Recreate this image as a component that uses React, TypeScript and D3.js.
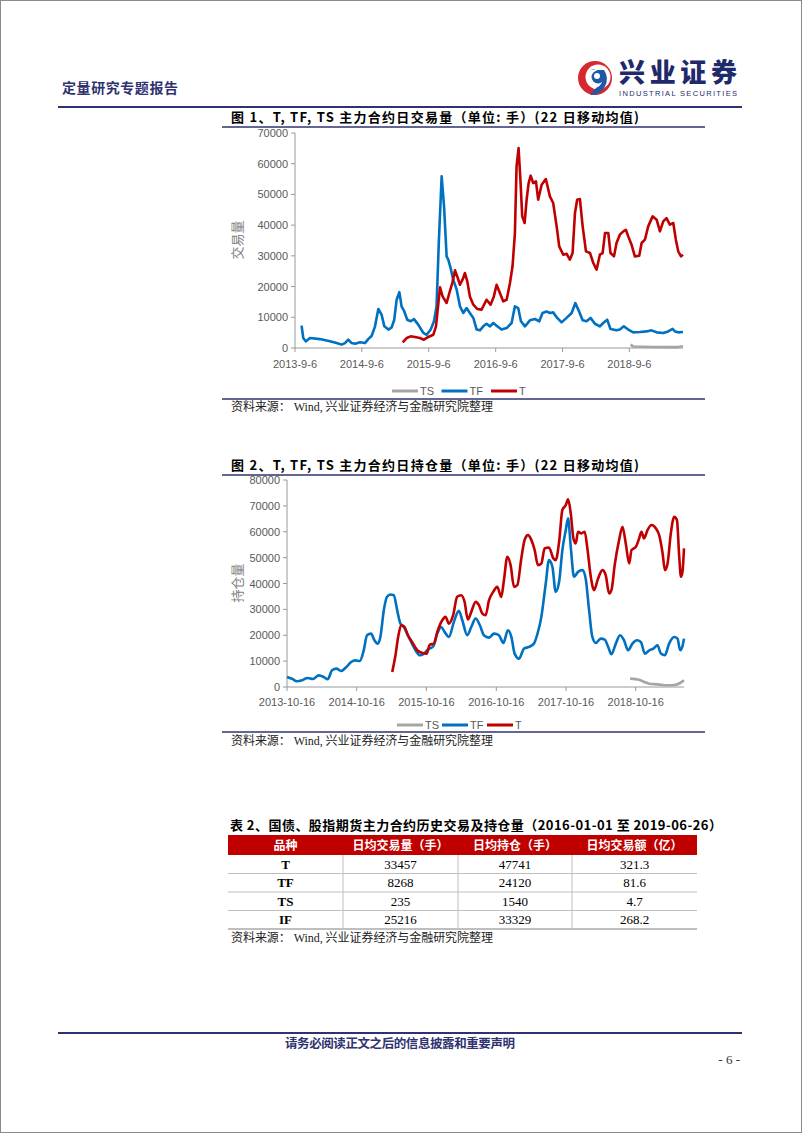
import React from "react";
import * as d3 from "d3";

type Pt = [string, number];

// ---------- Figure 1: daily volume (22-day MA) ----------
const volTF: Pt[] = [
  ["2013-10-12", 7270], ["2013-10-21", 3250], ["2013-11-05", 2170], ["2013-11-27", 3250],
  ["2014-01-20", 2900], ["2014-03-16", 2170], ["2014-04-21", 1600], ["2014-05-19", 1100],
  ["2014-06-06", 1600], ["2014-06-24", 2700], ["2014-07-12", 1600], ["2014-07-31", 1400],
  ["2014-08-27", 1850], ["2014-09-23", 1600], ["2014-10-11", 2900], ["2014-10-30", 4000],
  ["2014-11-17", 7050], ["2014-12-05", 12700], ["2014-12-23", 10850], ["2015-01-07", 7050],
  ["2015-01-29", 6000], ["2015-02-16", 6700], ["2015-03-02", 9200], ["2015-03-15", 15700],
  ["2015-03-30", 18200], ["2015-04-11", 13560], ["2015-04-26", 11900], ["2015-05-12", 9200],
  ["2015-05-31", 8700], ["2015-06-18", 9400], ["2015-07-11", 7600], ["2015-08-08", 4900],
  ["2015-08-26", 4300], ["2015-09-17", 6000], ["2015-10-05", 8700], ["2015-10-19", 13560],
  ["2015-11-01", 35260], ["2015-11-16", 55900], ["2015-11-29", 46100], ["2015-12-13", 29840],
  ["2015-12-22", 28750], ["2016-01-04", 26000], ["2016-01-18", 22240], ["2016-02-06", 19000],
  ["2016-02-24", 13560], ["2016-03-13", 11400], ["2016-03-31", 13000], ["2016-04-18", 11400],
  ["2016-05-07", 9800], ["2016-05-25", 6000], ["2016-06-12", 5750], ["2016-06-30", 7050],
  ["2016-07-18", 7900], ["2016-08-06", 7050], ["2016-08-24", 8140], ["2016-09-11", 7270],
  ["2016-10-08", 6000], ["2016-11-05", 6500], ["2016-12-02", 8140], ["2016-12-20", 13560],
  ["2017-01-07", 13000], ["2017-01-22", 8700], ["2017-02-13", 7050], ["2017-03-12", 9000],
  ["2017-04-08", 9440], ["2017-05-02", 8700], ["2017-05-20", 11400], ["2017-06-11", 11900],
  ["2017-06-29", 11400], ["2017-07-17", 11600], ["2017-08-08", 9800], ["2017-09-01", 8350],
  ["2017-09-28", 9800], ["2017-10-26", 11400], ["2017-11-15", 14650], ["2017-12-01", 12500],
  ["2017-12-25", 9000], ["2018-01-15", 8700], ["2018-02-06", 9800], ["2018-03-02", 7900],
  ["2018-03-29", 7050], ["2018-04-16", 8140], ["2018-05-08", 9200], ["2018-05-26", 6200],
  ["2018-06-28", 5750], ["2018-07-16", 6000], ["2018-08-07", 7050], ["2018-08-31", 6000],
  ["2018-09-27", 5100], ["2018-11-03", 5200], ["2018-12-09", 5400], ["2019-01-05", 5750],
  ["2019-02-02", 5100], ["2019-03-10", 4900], ["2019-04-06", 5400], ["2019-04-30", 6200],
  ["2019-05-13", 5400], ["2019-05-31", 5100], ["2019-06-26", 5200],
];

const volT: Pt[] = [
  ["2015-04-17", 1850], ["2015-05-09", 3250], ["2015-05-31", 3800], ["2015-06-23", 3600],
  ["2015-07-20", 3250], ["2015-08-11", 2700], ["2015-09-04", 3600], ["2015-10-01", 4300],
  ["2015-10-16", 7050], ["2015-10-29", 14650], ["2015-11-07", 19750], ["2015-11-21", 16800],
  ["2015-12-13", 14650], ["2015-12-28", 17900], ["2016-01-13", 21160], ["2016-01-28", 25280],
  ["2016-02-09", 23300], ["2016-02-24", 20600], ["2016-03-09", 22240], ["2016-03-22", 24400],
  ["2016-04-04", 21700], ["2016-04-18", 16800], ["2016-05-07", 14100], ["2016-05-28", 12700],
  ["2016-06-21", 12500], ["2016-07-18", 15700], ["2016-08-09", 14100], ["2016-08-27", 16800],
  ["2016-09-11", 20600], ["2016-09-29", 17900], ["2016-10-17", 15200], ["2016-11-05", 15700],
  ["2016-11-23", 21160], ["2016-12-07", 26600], ["2016-12-20", 37430], ["2016-12-29", 59130],
  ["2017-01-09", 65100], ["2017-01-20", 53700], ["2017-01-29", 42860], ["2017-02-11", 40690],
  ["2017-02-22", 48280], ["2017-03-05", 53700], ["2017-03-16", 56100], ["2017-03-30", 53700],
  ["2017-04-14", 54250], ["2017-04-26", 48280], ["2017-05-15", 53160], ["2017-06-07", 55000],
  ["2017-06-29", 49370], ["2017-07-17", 47200], ["2017-08-05", 39600], ["2017-08-19", 33100],
  ["2017-09-10", 30380], ["2017-09-28", 30700], ["2017-10-16", 28750], ["2017-10-31", 30920],
  ["2017-11-13", 43940], ["2017-11-25", 48280], ["2017-12-10", 48500], ["2017-12-25", 39600],
  ["2018-01-12", 31465], ["2018-02-03", 30920], ["2018-02-21", 27670], ["2018-03-11", 25500],
  ["2018-03-29", 30380], ["2018-04-13", 30920], ["2018-04-26", 37430], ["2018-05-14", 37430],
  ["2018-05-26", 30920], ["2018-06-14", 29840], ["2018-06-28", 34180], ["2018-07-16", 36900],
  ["2018-08-04", 37980], ["2018-08-18", 38500], ["2018-08-31", 36350], ["2018-09-18", 33640],
  ["2018-10-06", 29840], ["2018-10-30", 30050], ["2018-11-12", 34180], ["2018-11-30", 35260],
  ["2018-12-18", 39600], ["2019-01-11", 42860], ["2019-02-02", 41770], ["2019-02-20", 37980],
  ["2019-03-10", 41230], ["2019-03-28", 42300], ["2019-04-15", 40150], ["2019-05-04", 40690],
  ["2019-05-18", 35260], ["2019-05-31", 31465], ["2019-06-15", 29840], ["2019-06-26", 30380],
];

const volTS: Pt[] = [
  ["2018-09-13", 1100], ["2018-09-27", 500], ["2019-01-14", 350], ["2019-04-15", 300],
  ["2019-05-31", 300], ["2019-06-26", 550],
];

// ---------- Figure 2: daily open interest (22-day MA) ----------
const oiTF: Pt[] = [
  ["2013-10-16", 3870], ["2013-11-11", 3200], ["2013-12-07", 2200], ["2014-01-03", 2580],
  ["2014-02-01", 3480], ["2014-03-01", 3100], ["2014-03-31", 4500], ["2014-04-26", 3870],
  ["2014-05-17", 2970], ["2014-06-09", 6450], ["2014-07-02", 7100], ["2014-07-26", 6200],
  ["2014-08-23", 7740], ["2014-09-17", 9680], ["2014-10-09", 10300], ["2014-11-01", 10060],
  ["2014-11-22", 14200], ["2014-12-09", 20000], ["2014-12-30", 20640], ["2015-01-17", 18060],
  ["2015-02-03", 16770], ["2015-02-17", 19350], ["2015-03-07", 29680], ["2015-03-24", 34840],
  ["2015-04-11", 35740], ["2015-04-28", 35480], ["2015-05-16", 29680], ["2015-06-02", 24500],
  ["2015-06-20", 23200], ["2015-07-07", 20640], ["2015-07-28", 17400], ["2015-08-20", 14200],
  ["2015-09-12", 12260], ["2015-10-03", 12900], ["2015-10-24", 14450], ["2015-11-21", 15740],
  ["2015-12-12", 20640], ["2016-01-02", 23200], ["2016-01-19", 21300], ["2016-02-11", 19350],
  ["2016-03-08", 25160], ["2016-04-03", 29420], ["2016-04-21", 25800], ["2016-05-17", 20000],
  ["2016-06-07", 23200], ["2016-06-30", 26450], ["2016-07-22", 23870], ["2016-08-12", 20000],
  ["2016-09-08", 19100], ["2016-10-04", 20640], ["2016-10-30", 20000], ["2016-11-22", 17030],
  ["2016-12-16", 21940], ["2017-01-03", 19350], ["2017-01-20", 12900], ["2017-02-12", 10970],
  ["2017-03-10", 14840], ["2017-04-05", 15480], ["2017-05-01", 16770], ["2017-05-19", 20390],
  ["2017-06-09", 27100], ["2017-07-02", 40000], ["2017-07-19", 49030], ["2017-08-06", 46450],
  ["2017-08-23", 36770], ["2017-09-10", 40650], ["2017-09-27", 52900], ["2017-10-15", 60650],
  ["2017-10-27", 65160], ["2017-11-10", 54190], ["2017-11-27", 42580], ["2017-12-18", 44500],
  ["2018-01-10", 45160], ["2018-01-27", 41930], ["2018-02-14", 29680], ["2018-03-03", 19350],
  ["2018-03-21", 17030], ["2018-04-16", 18700], ["2018-05-07", 18320], ["2018-05-25", 15480],
  ["2018-06-11", 12640], ["2018-07-04", 16770], ["2018-07-26", 20000], ["2018-08-16", 18060],
  ["2018-09-06", 14200], ["2018-09-29", 16770], ["2018-10-22", 18060], ["2018-11-12", 17400],
  ["2018-12-03", 12900], ["2018-12-26", 14200], ["2019-01-17", 14840], ["2019-02-07", 16130],
  ["2019-02-25", 12900], ["2019-03-18", 12260], ["2019-04-09", 16770], ["2019-05-06", 19350],
  ["2019-05-23", 18700], ["2019-06-06", 14200], ["2019-06-17", 15480], ["2019-06-26", 18700],
];

const oiT: Pt[] = [
  ["2015-04-20", 5800], ["2015-05-07", 12260], ["2015-05-21", 19350], ["2015-06-06", 23870],
  ["2015-06-23", 23200], ["2015-07-11", 20000], ["2015-08-02", 17400], ["2015-08-29", 14200],
  ["2015-09-24", 13160], ["2015-10-17", 12900], ["2015-11-03", 16390], ["2015-11-24", 16770],
  ["2015-12-12", 21300], ["2016-01-07", 25800], ["2016-01-24", 27100], ["2016-02-11", 24500],
  ["2016-03-04", 27740], ["2016-03-25", 34840], ["2016-04-15", 35480], ["2016-05-03", 32900],
  ["2016-05-20", 26060], ["2016-06-07", 29030], ["2016-06-30", 32900], ["2016-07-17", 31610],
  ["2016-08-04", 28390], ["2016-08-21", 27740], ["2016-09-08", 33550], ["2016-09-30", 36770],
  ["2016-10-21", 38710], ["2016-11-11", 34840], ["2016-11-25", 41290], ["2016-12-13", 50320],
  ["2016-12-30", 47100], ["2017-01-17", 38710], ["2017-02-03", 39350], ["2017-02-24", 49680],
  ["2017-03-14", 57030], ["2017-03-31", 58710], ["2017-04-18", 56770], ["2017-05-05", 52900],
  ["2017-05-22", 47100], ["2017-06-09", 47740], ["2017-06-26", 53550], ["2017-07-19", 53930],
  ["2017-08-11", 49680], ["2017-08-23", 49030], ["2017-09-10", 56130], ["2017-09-27", 68390],
  ["2017-10-15", 70320], ["2017-10-27", 72520], ["2017-11-10", 67100], ["2017-11-24", 57420],
  ["2017-12-06", 55480], ["2017-12-18", 60000], ["2018-01-05", 59350], ["2018-01-22", 60000],
  ["2018-02-05", 53550], ["2018-02-23", 42580], ["2018-03-12", 37420], ["2018-04-02", 41930],
  ["2018-04-25", 45160], ["2018-05-12", 43230], ["2018-05-30", 36130], ["2018-06-11", 37420],
  ["2018-06-28", 47100], ["2018-07-21", 56770], ["2018-08-08", 61940], ["2018-08-25", 55480],
  ["2018-09-12", 47740], ["2018-09-24", 52900], ["2018-10-17", 54190], ["2018-11-03", 57420],
  ["2018-11-15", 60000], ["2018-11-29", 57420], ["2018-12-17", 60650], ["2019-01-07", 62580],
  ["2019-01-30", 61290], ["2019-02-16", 58710], ["2019-03-06", 51610], ["2019-03-18", 45160],
  ["2019-04-01", 47740], ["2019-04-18", 59350], ["2019-05-06", 65810], ["2019-05-20", 64520],
  ["2019-06-01", 50320], ["2019-06-10", 42580], ["2019-06-18", 44500], ["2019-06-26", 53550],
];

const oiTS: Pt[] = [
  ["2018-09-17", 3230], ["2018-11-03", 2840], ["2018-11-29", 1935], ["2018-12-26", 1290],
  ["2019-02-07", 1030], ["2019-04-01", 650], ["2019-05-14", 900], ["2019-06-06", 1550],
  ["2019-06-26", 2580],
];

const xTicks1 = ["2013-9-6", "2014-9-6", "2015-9-6", "2016-9-6", "2017-9-6", "2018-9-6"];
const xTicks2 = ["2013-10-16", "2014-10-16", "2015-10-16", "2016-10-16", "2017-10-16", "2018-10-16"];
const yTicks1 = [0, 10000, 20000, 30000, 40000, 50000, 60000, 70000];
const yTicks2 = [0, 10000, 20000, 30000, 40000, 50000, 60000, 70000, 80000];

const seriesNames = ["TS", "TF", "T"];
const seriesColors = ["#a5a5a5", "#0070c0", "#c00000"];

// ---------- Table 2 ----------
const tableHeader = ["品种", "日均交易量（手）", "日均持仓（手）", "日均交易额（亿）"];
const tableProducts = ["T", "TF", "TS", "IF"];
const tableVolume = ["33457", "8268", "235", "25216"];
const tableOI = ["47741", "24120", "1540", "33329"];
const tableAmount = ["321.3", "81.6", "4.7", "268.2"];

const NAVY = "#2f3270";
const SERIF = "'Liberation Serif', 'Noto Sans CJK SC', serif";
const CJK = "'Noto Sans CJK SC', sans-serif";
const AX = "'Liberation Sans', Arial, sans-serif";

const parse = d3.timeParse("%Y-%m-%d");

interface ChartProps {
  x0: number; x1: number; yTop: number; yBottom: number;
  start: string; end: string; yMax: number;
  yTicks: number[]; xTicks: string[];
  series: Pt[][];
  curve: d3.CurveFactory;
  yTitle: string; yTitleY: number;
  tickLabelY: number; legendY: number; legendX: number; legendStep: number;
}

function LineChart(p: ChartProps) {
  const x = d3.scaleTime().domain([parse(p.start)!, parse(p.end)!]).range([p.x0, p.x1]);
  const y = d3.scaleLinear().domain([0, p.yMax]).range([p.yBottom, p.yTop]);
  const line = d3
    .line<Pt>()
    .x((d) => x(parse(d[0])!))
    .y((d) => y(d[1]))
    .curve(p.curve);
  const axisColor = "#9a9a9a";
  return (
    <g>
      {/* y axis */}
      <line x1={p.x0} x2={p.x0} y1={p.yTop} y2={p.yBottom} stroke={axisColor} strokeWidth={1} />
      {p.yTicks.map((t) => (
        <g key={t}>
          <line x1={p.x0 - 4} x2={p.x0} y1={y(t)} y2={y(t)} stroke={axisColor} />
          <text x={p.x0 - 7} y={y(t) + 4} textAnchor="end" fontSize={11} fill="#595959" fontFamily={AX}>
            {t}
          </text>
        </g>
      ))}
      {/* x axis */}
      <line x1={p.x0} x2={p.x1} y1={p.yBottom} y2={p.yBottom} stroke={axisColor} />
      {p.xTicks.map((t) => {
        const xx = x(parse(t)!);
        return (
          <g key={t}>
            <line x1={xx} x2={xx} y1={p.yBottom} y2={p.yBottom + 4} stroke={axisColor} />
            <text x={xx} y={p.tickLabelY} textAnchor="middle" fontSize={11} fill="#595959" fontFamily={AX}>
              {t}
            </text>
          </g>
        );
      })}
      {/* y title */}
      <text
        transform={`translate(242,${p.yTitleY}) rotate(-90)`}
        textAnchor="middle"
        fontSize={13}
        fill="#7f7f7f"
        fontFamily={CJK}
      >
        {p.yTitle}
      </text>
      {/* series */}
      {p.series.map((s, i) => (
        <path key={i} d={line(s) || ""} fill="none" stroke={seriesColors[i]} strokeWidth={2.6} strokeLinejoin="round" />
      ))}
      {/* legend */}
      {seriesNames.map((n, i) => {
        const lx = p.legendX + i * p.legendStep;
        return (
          <g key={n}>
            <line x1={lx} x2={lx + 26} y1={p.legendY} y2={p.legendY} stroke={seriesColors[i]} strokeWidth={3} />
            <text x={lx + 28} y={p.legendY + 4} fontSize={11} fill="#595959" fontFamily={AX}>
              {n}
            </text>
          </g>
        );
      })}
    </g>
  );
}

function Rule({ y, x1 = 222, x2 = 705, w = 1.5, c = NAVY }: { y: number; x1?: number; x2?: number; w?: number; c?: string }) {
  return <line x1={x1} x2={x2} y1={y} y2={y} stroke={c} strokeWidth={w} />;
}

function Source({ y }: { y: number }) {
  return (
    <text x={231} y={y} fontSize={12} fill="#222" fontFamily={SERIF} textLength={262}>
      资料来源： Wind, 兴业证券经济与金融研究院整理
    </text>
  );
}

export default function App() {
  const colEdges = [228, 343, 458, 572, 697];
  const headTop = 835;
  const headH = 20;
  const rowH = 18.5;
  const rows = tableProducts.map((p, i) => [p, tableVolume[i], tableOI[i], tableAmount[i]]);
  return (
    <svg
      width={802}
      height={1133}
      style={{ position: "absolute", left: 0, top: 0, background: "#fff" }}
      xmlns="http://www.w3.org/2000/svg"
    >
      <rect x={0.5} y={0.5} width={801} height={1132} fill="#fff" stroke="#8a8a8a" />

      {/* Header */}
      <text x={62} y={93} fontSize={14} fill={NAVY} fontFamily={SERIF} fontWeight={700} textLength={116}>
        定量研究专题报告
      </text>
      <g>
        <circle cx={595} cy={78} r={17} fill="#d6282f" />
        <circle cx={598} cy={77} r={12.5} fill="#fff" />
        <path d="M 590 70 A 9 9 0 1 1 596 88 L 590 95 A 16 16 0 0 0 604 70 Z" fill="#1c5aa6" />
        <circle cx={598} cy={77} r={6.5} fill="#1c5aa6" />
        <circle cx={597} cy={76} r={3} fill="#fff" />
      </g>
      <text x={619} y={82} fontSize={26} fill="#1f2a6b" fontFamily={CJK} fontWeight={900} textLength={118}>
        兴业证券
      </text>
      <text x={619} y={96} fontSize={7.5} fill="#1f2a6b" fontFamily={AX} textLength={118}>
        INDUSTRIAL SECURITIES
      </text>
      <Rule y={107} x1={58} x2={742} w={2} />

      {/* Figure 1 */}
      <text x={231} y={122} fontSize={13} fill="#000" fontFamily={CJK} fontWeight={700} textLength={408}>
        图 1、T, TF, TS 主力合约日交易量（单位: 手）(22 日移动均值)
      </text>
      <Rule y={127} />
      <LineChart
        x0={295} x1={683} yTop={133} yBottom={348}
        start="2013-09-06" end="2019-06-26" yMax={70000}
        yTicks={yTicks1} xTicks={xTicks1}
        series={[volTS, volTF, volT]}
        curve={d3.curveLinear}
        yTitle="交易量" yTitleY={240}
        tickLabelY={368} legendY={391} legendX={392} legendStep={49.5}
      />
      <Rule y={399} />
      <Source y={411} />

      {/* Figure 2 */}
      <text x={231} y={470} fontSize={13} fill="#000" fontFamily={CJK} fontWeight={700} textLength={408}>
        图 2、T, TF, TS 主力合约日持仓量（单位: 手）(22 日移动均值)
      </text>
      <Rule y={475} />
      <LineChart
        x0={287} x1={684} yTop={480} yBottom={687}
        start="2013-10-16" end="2019-06-26" yMax={80000}
        yTicks={yTicks2} xTicks={xTicks2}
        series={[oiTS, oiTF, oiT]}
        curve={d3.curveMonotoneX}
        yTitle="持仓量" yTitleY={583}
        tickLabelY={706} legendY={725} legendX={397} legendStep={45}
      />
      <Rule y={732} />
      <Source y={745} />

      {/* Table 2 */}
      <text x={230} y={830} fontSize={13} fill="#000" fontFamily={CJK} fontWeight={700} textLength={492}>
        表 2、国债、股指期货主力合约历史交易及持仓量（2016-01-01 至 2019-06-26）
      </text>
      <rect x={colEdges[0]} y={headTop} width={colEdges[4] - colEdges[0]} height={headH} fill="#c00000" />
      {tableHeader.map((h, i) => (
        <text
          key={h}
          x={(colEdges[i] + colEdges[i + 1]) / 2}
          y={headTop + 14.5}
          textAnchor="middle"
          fontSize={12}
          fill="#fff"
          fontWeight={700}
          fontFamily={CJK}
        >
          {h}
        </text>
      ))}
      {rows.map((r, ri) => {
        const top = headTop + headH + ri * rowH;
        return (
          <g key={ri}>
            {r.map((c, ci) => (
              <text
                key={ci}
                x={(colEdges[ci] + colEdges[ci + 1]) / 2}
                y={top + 13.5}
                textAnchor="middle"
                fontSize={13}
                fill="#000"
                fontWeight={ci === 0 ? 700 : 400}
                fontFamily={SERIF}
              >
                {c}
              </text>
            ))}
            <line x1={colEdges[0]} x2={colEdges[4]} y1={top + rowH} y2={top + rowH} stroke={ri === rows.length - 1 ? "#7f7f7f" : "#bfbfbf"} strokeWidth={1} />
          </g>
        );
      })}
      {colEdges.slice(1, 4).map((cx, i) => (
        <line key={i} x1={cx} x2={cx} y1={headTop + headH} y2={headTop + headH + rowH * rows.length} stroke="#bfbfbf" />
      ))}
      <Source y={942} />

      {/* Footer */}
      <Rule y={1033} x1={58} x2={742} w={2} />
      <text x={400} y={1048} textAnchor="middle" fontSize={12.5} fill={NAVY} fontFamily={SERIF} fontWeight={700} textLength={230}>
        请务必阅读正文之后的信息披露和重要声明
      </text>
      <text x={740} y={1064} textAnchor="end" fontSize={13} fill="#333" fontFamily={SERIF}>
        - 6 -
      </text>
    </svg>
  );
}
